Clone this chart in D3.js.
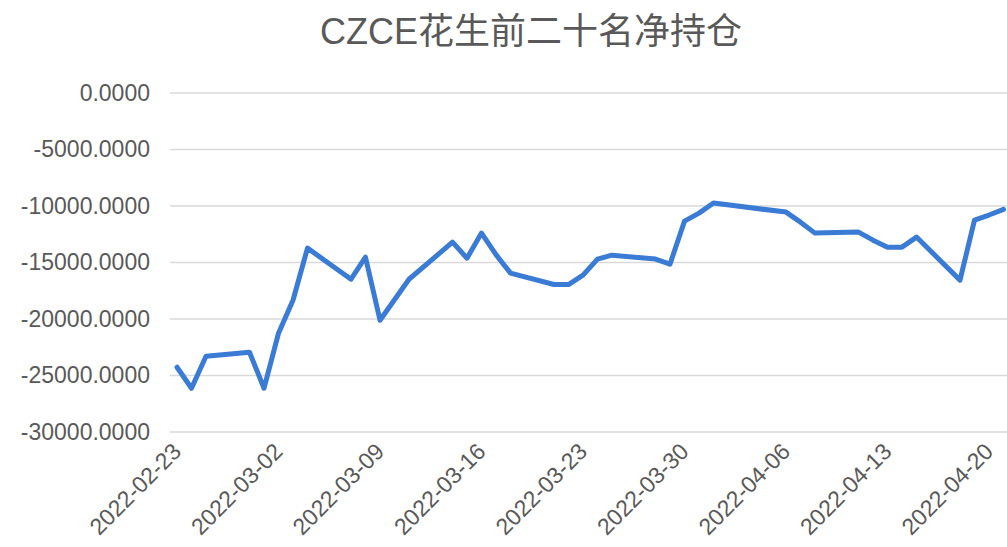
<!DOCTYPE html>
<html>
<head>
<meta charset="utf-8">
<script src="https://cdn.jsdelivr.net/npm/d3@7"></script>
<style>
  body { margin: 0; background: #fff; }
  svg { display: block; font-family: "Liberation Sans", Arial, "Noto Sans CJK SC", sans-serif; }
</style>
</head>
<body>
<div class="canvas"></div>
<script>
const width = 1007;
const height = 547;

// data
const dates = [
  "2022-02-23", "2022-02-24", "2022-02-25", "2022-02-28", "2022-03-01",
  "2022-03-02", "2022-03-03", "2022-03-04", "2022-03-07", "2022-03-08",
  "2022-03-09", "2022-03-10", "2022-03-11", "2022-03-14", "2022-03-15",
  "2022-03-16", "2022-03-17", "2022-03-18", "2022-03-21", "2022-03-22",
  "2022-03-23", "2022-03-24", "2022-03-25", "2022-03-28", "2022-03-29",
  "2022-03-30", "2022-03-31", "2022-04-01", "2022-04-06", "2022-04-07",
  "2022-04-08", "2022-04-11", "2022-04-12", "2022-04-13", "2022-04-14",
  "2022-04-15", "2022-04-18", "2022-04-19", "2022-04-20", "2022-04-21"
];
const netPosition = [
  -24270, -26130, -23300, -22940, -26130,
  -21260, -18340, -13730, -16480, -14530,
  -20110, -18300, -16480, -13200, -14620,
  -12400, -14300, -15940, -16950, -16950,
  -16120, -14700, -14350, -14700, -15150,
  -11340, -10630, -9740, -10540, -11430,
  -12400, -12310, -13020, -13640, -13640,
  -12750, -16560, -11250, -10800, -10300
];
const yTicks = [0, -5000, -10000, -15000, -20000, -25000, -30000];
const xTickLabels = [
  "2022-02-23", "2022-03-02", "2022-03-09", "2022-03-16", "2022-03-23",
  "2022-03-30", "2022-04-06", "2022-04-13", "2022-04-20"
];
const title = "CZCE花生前二十名净持仓";

const parse = d3.timeParse("%Y-%m-%d");
const data = dates.map((d, i) => ({ date: parse(d), value: netPosition[i] }));

const svg = d3.select(".canvas")
  .append("svg")
  .attr("width", width)
  .attr("height", height);

// plot area
const plotLeft = 170;
const plotTop = 93;
const plotBottom = 432;

const xScale = d3.scaleTime()
  .domain([parse("2022-02-23"), parse("2022-04-20")])
  .range([177, 989]);

const yScale = d3.scaleLinear()
  .domain([-30000, 0])
  .range([plotBottom, plotTop]);

// gridlines
svg.append("g")
  .selectAll("line")
  .data(yTicks)
  .enter()
  .append("line")
  .attr("x1", plotLeft)
  .attr("x2", width)
  .attr("y1", d => yScale(d))
  .attr("y2", d => yScale(d))
  .attr("stroke", "#d9d9d9")
  .attr("stroke-width", 1.3);

// y axis, plain hyphen for the minus sign like the original
const fmt = d3.format(".4f");
const yAxis = d3.axisLeft(yScale)
  .tickValues(yTicks)
  .tickSize(0)
  .tickPadding(0)
  .tickFormat(d => fmt(d).replace("\u2212", "-"));

svg.append("g")
  .attr("transform", "translate(150, 0)")
  .call(yAxis)
  .call(g => g.select(".domain").remove())
  .selectAll("text")
  .attr("fill", "#595959")
  .attr("font-size", "23px")
  .attr("font-family", "Liberation Sans, Arial, sans-serif");

// x axis
const xAxis = d3.axisBottom(xScale)
  .tickValues(xTickLabels.map(parse))
  .tickSize(0)
  .tickFormat(d3.timeFormat("%Y-%m-%d"));

svg.append("g")
  .attr("transform", `translate(0, ${plotBottom})`)
  .call(xAxis)
  .call(g => g.select(".domain").remove())
  .selectAll("text")
  .attr("fill", "#595959")
  .attr("font-size", "23px")
  .attr("font-family", "Liberation Sans, Arial, sans-serif")
  .attr("text-anchor", "end")
  .attr("dy", 0)
  .attr("y", 0)
  .attr("transform", "translate(5, 21) rotate(-45)");

// line
const line = d3.line()
  .x(d => xScale(d.date))
  .y(d => yScale(d.value));

svg.append("path")
  .datum(data)
  .attr("d", line)
  .attr("fill", "none")
  .attr("stroke", "#3a7bd5")
  .attr("stroke-width", 5)
  .attr("stroke-linejoin", "round")
  .attr("stroke-linecap", "round");

// title
svg.append("text")
  .attr("x", 531)
  .attr("y", 44)
  .attr("text-anchor", "middle")
  .attr("fill", "#595959")
  .attr("font-size", "36px")
  .text(title);
</script>
</body>
</html>
